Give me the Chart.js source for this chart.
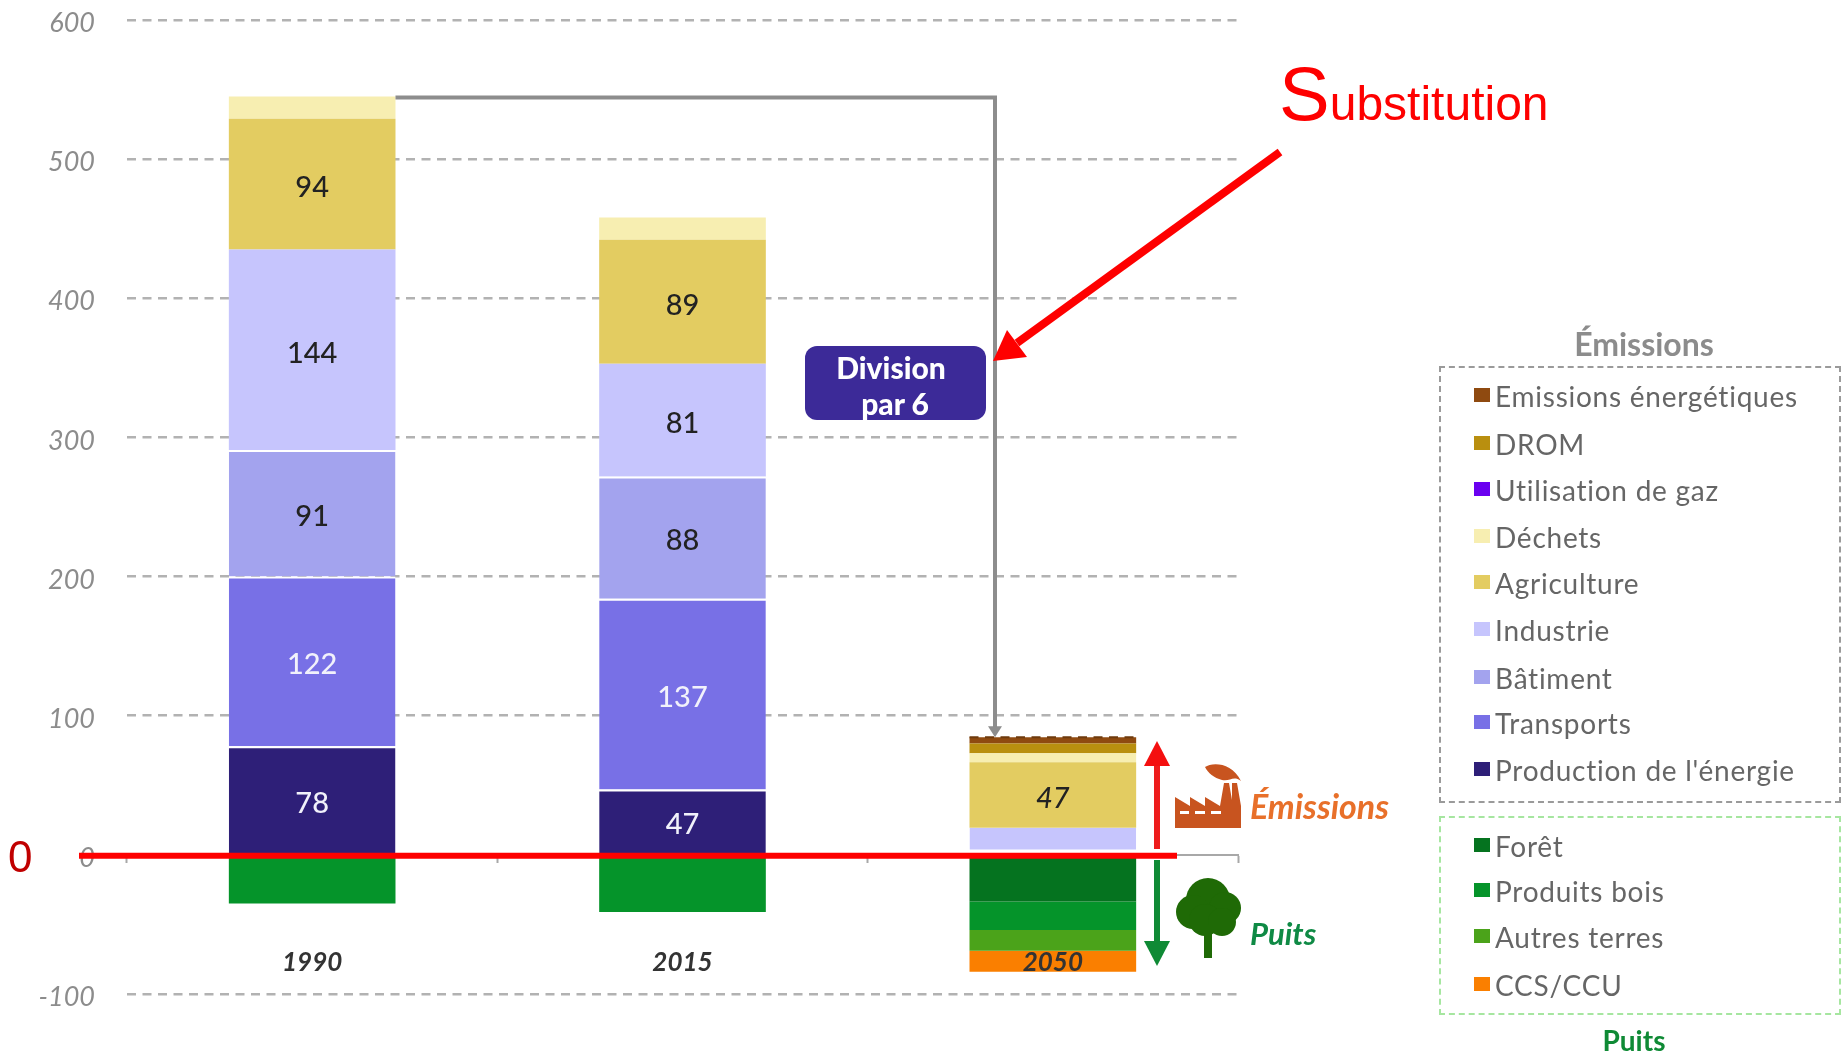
<!DOCTYPE html>
<html lang="fr"><head><meta charset="utf-8">
<script src="https://cdn.jsdelivr.net/npm/chart.js@4/dist/chart.umd.min.js"></script>
<style>
html,body{margin:0;padding:0;background:#fff;width:1841px;height:1053px;overflow:hidden}
#wrap{position:relative;width:1841px;height:1053px;font-family:Lato,sans-serif}
canvas{position:absolute;left:0;top:0}
.t{position:absolute;white-space:nowrap;line-height:1}
.box{position:absolute;box-sizing:border-box;left:1439px;width:402px}
.sw{position:absolute;left:1474px;width:16px;height:14px}
.lg{position:absolute;left:1495px;white-space:nowrap;font-size:28px;line-height:1;color:#666;letter-spacing:.75px;transform:translateY(-50%)}
</style></head><body>
<div id="wrap"><canvas id="c" width="1841" height="1053"></canvas></div>
<script>
const categories = ['1990', '2015', '2050'];
const yTicks = [-100, 0, 100, 200, 300, 400, 500, 600];
const production = [78, 47, 0];
const transports = [122, 137, 0];
const batiment = [91, 88, 0];
const industrie = [144, 81, 19.5];
const agriculture = [94, 89, 47];
const dechets = [16, 16, 6.5];
const gaz = [0, 0, 0];
const drom = [0, 0, 7];
const emissionsEnergetiques = [0, 0, 4.5];
const foret = [0, 0, -33.5];
const produitsBois = [-35, -41, -20.5];
const autresTerres = [0, 0, -15];
const ccs = [0, 0, -15];
const labelled = {
  'Production de l\'énergie': [78, 47, null],
  'Transports': [122, 137, null],
  'Bâtiment': [91, 88, null],
  'Industrie': [144, 81, null],
  'Agriculture': [94, 89, 47]
};
const emissionSeries = [
  ['Emissions énergétiques', emissionsEnergetiques, '#8f4a10'],
  ['DROM', drom, '#b98f0f'],
  ['Utilisation de gaz', gaz, '#6a00f0'],
  ['Déchets', dechets, '#f7eeb1'],
  ['Agriculture', agriculture, '#e3cc61'],
  ['Industrie', industrie, '#c6c5fd'],
  ['Bâtiment', batiment, '#a3a3ee'],
  ['Transports', transports, '#7870e6'],
  ['Production de l\'énergie', production, '#2e1f78']
];
const sinkSeries = [
  ['Forêt', foret, '#05731f'],
  ['Produits bois', produitsBois, '#05942a'],
  ['Autres terres', autresTerres, '#4ba31a'],
  ['CCS/CCU', ccs, '#fa7f00']
];
const emissionRowsY = [396, 444, 490, 537, 583, 630, 678, 723, 770];
const sinkRowsY = [846, 891, 937, 985];

const white = new Set(['Production de l\'énergie', 'Transports', 'Bâtiment']);
const datasets = [...emissionSeries.slice().reverse(), ...sinkSeries].map(([label, data, color]) => ({
  label, data, backgroundColor: color, stack: 's',
  borderColor: '#fff', borderSkipped: false,
  borderWidth: ctx => {
    if (label === 'Industrie' && ctx.dataIndex === 2) return {bottom: 4};
    return white.has(label) ? {top: 2} : 0;
  }
}));

const FONT = 'Lato, sans-serif';
const overlay = {
  id: 'overlay',
  afterDatasetsDraw(chart) {
    const c = chart.ctx;
    c.save();
    c.textAlign = 'center'; c.textBaseline = 'middle';
    chart.data.datasets.forEach((ds, i) => {
      const vals = labelled[ds.label]; if (!vals) return;
      chart.getDatasetMeta(i).data.forEach((bar, j) => {
        if (vals[j] == null) return;
        const dark = ds.label === 'Production de l\'énergie' || ds.label === 'Transports';
        c.fillStyle = dark ? '#f1f1fb' : '#222';
        c.font = (j === 2 ? 'italic ' : '') + '500 29px ' + FONT;
        c.fillText(String(vals[j]), bar.x, (bar.y + bar.base) / 2 + 3.5);
      });
    });
    c.restore();
  },
  afterDraw(chart) {
    const c = chart.ctx, y = chart.scales.y;
    const y0 = y.getPixelForValue(0);
    const metaTop = chart.getDatasetMeta(chart.data.datasets.findIndex(d => d.label === 'Déchets')).data[0];
    const topBar = chart.getDatasetMeta(chart.data.datasets.findIndex(d => d.label === 'Emissions énergétiques')).data[2];
    c.save();
    // dashed rim on the 2050 bar
    c.strokeStyle = '#6e3a0c'; c.lineWidth = 2; c.setLineDash([9, 6.5]);
    c.beginPath(); c.moveTo(topBar.x - topBar.width / 2, topBar.y); c.lineTo(topBar.x + topBar.width / 2, topBar.y); c.stroke();
    c.setLineDash([]);
    // grey bracket 1990 -> 2050
    c.strokeStyle = '#8d8d8d'; c.lineWidth = 4;
    c.beginPath(); c.moveTo(metaTop.x + metaTop.width / 2, metaTop.y + 1); c.lineTo(995, metaTop.y + 1); c.lineTo(995, topBar.y - 8); c.stroke();
    c.fillStyle = '#8d8d8d';
    c.beginPath(); c.moveTo(988, topBar.y - 11); c.lineTo(1002, topBar.y - 11); c.lineTo(995, topBar.y); c.closePath(); c.fill();
    // division box
    c.fillStyle = '#3c2a98';
    c.beginPath(); c.roundRect(805, 346, 181, 74, 12); c.fill();
    // red diagonal arrow
    c.strokeStyle = '#fe0000'; c.lineWidth = 8;
    c.beginPath(); c.moveTo(1280, 152); c.lineTo(1017, 343); c.stroke();
    c.fillStyle = '#fe0000';
    c.beginPath(); c.moveTo(993, 361); c.lineTo(1007, 330); c.lineTo(1027, 357); c.closePath(); c.fill();
    // zero line
    c.strokeStyle = '#fe0000'; c.lineWidth = 6;
    c.beginPath(); c.moveTo(79, y0 + 1); c.lineTo(1177, y0 + 1); c.stroke();
    // emissions arrow
    c.strokeStyle = '#ee1c1c'; c.lineWidth = 6;
    c.beginPath(); c.moveTo(1157, 849); c.lineTo(1157, 760); c.stroke();
    c.fillStyle = '#f40f0f';
    c.beginPath(); c.moveTo(1157, 741); c.lineTo(1170, 766); c.lineTo(1144, 766); c.closePath(); c.fill();
    // sinks arrow
    c.strokeStyle = '#0f8a35';
    c.beginPath(); c.moveTo(1157, 860); c.lineTo(1157, 945); c.stroke();
    c.fillStyle = '#0f8a35';
    c.beginPath(); c.moveTo(1157, 966); c.lineTo(1144, 941); c.lineTo(1170, 941); c.closePath(); c.fill();
    // factory
    c.fillStyle = '#c8541f';
    c.fill(new Path2D('M1175 828V797L1190 806V797L1205 806V797L1220 806L1224 783H1229L1232 800V783H1237L1241 806V828Z'));
    c.fillStyle = '#fff';
    c.fillRect(1180, 811, 9, 3); c.fillRect(1195, 811, 10, 3); c.fillRect(1211, 811, 10, 3);
    c.fillStyle = '#c8541f';
    c.fill(new Path2D('M1205 767C1212 762 1232 762 1241 781C1233 775 1230 782 1222 780C1214 778 1208 773 1205 767Z'));
    // tree
    c.fillStyle = '#1f6a06';
    [[1208, 900, 22], [1193, 912, 17], [1225, 908, 16], [1205, 920, 16], [1222, 922, 14]].forEach(([a, b, r]) => {
      c.beginPath(); c.arc(a, b, r, 0, 7); c.fill();
    });
    c.fillRect(1204, 925, 8, 33);
    c.restore();
  }
};

new Chart(document.getElementById('c'), {
  type: 'bar',
  data: {labels: categories, datasets},
  plugins: [overlay],
  options: {
    responsive: false, animation: false, devicePixelRatio: 1,
    layout: {padding: {left: 0, right: 603, top: 20, bottom: 59}},
    datasets: {bar: {barPercentage: 0.45, categoryPercentage: 1}},
    plugins: {legend: {display: false}, tooltip: {enabled: false}, title: {display: false}},
    scales: {
      x: {
        stacked: true, position: {y: 0}, offset: true,
        afterFit(s) { s.height = 0; },
        grid: {drawOnChartArea: false, drawTicks: true, tickLength: 7, tickWidth: 2, tickColor: '#a8a8a8', offset: true},
        border: {display: true, color: '#a8a8a8', width: 2},
        ticks: {color: '#333', font: {family: FONT, size: 26, style: 'italic', weight: 'bold'}, padding: 85, maxRotation: 0, z: 1}
      },
      y: {
        stacked: true, min: -100, max: 600,
        afterFit(s) { s.width = 127; s.paddingTop = 0; s.paddingBottom = 0; },
        afterBuildTicks(s) { s.ticks = yTicks.map(value => ({value})); },
        grid: {
          color: ctx => ctx.tick && ctx.tick.value === 0 ? 'rgba(0,0,0,0)' : '#b2b2b2',
          lineWidth: 2.5, drawTicks: false
        },
        border: {display: false, dash: [9, 6.5]},
        ticks: {color: '#8c8c8c', font: {family: FONT, size: 27, style: 'italic'}, padding: 32, labelOffset: 3.5}
      }
    }
  }
});

const wrap = document.getElementById('wrap');
function addText(text, css, cls) {
  const d = document.createElement('div');
  d.className = cls || 't'; d.textContent = text; d.style.cssText = css; wrap.appendChild(d); return d;
}
function addBox(top, height, color) {
  const d = document.createElement('div');
  d.className = 'box';
  d.style.cssText = `top:${top}px;height:${height}px;border:2px dashed ${color}`;
  wrap.appendChild(d);
}
addBox(366, 437, '#9a9a9a');
addBox(816, 199, '#a6e6a0');
emissionSeries.forEach(([n, , col], i) => {
  const s = document.createElement('div'); s.className = 'sw';
  s.style.cssText = `top:${emissionRowsY[i] - 8}px;background:${col}`; wrap.appendChild(s);
  addText(n, `top:${emissionRowsY[i]}px`, 'lg');
});
sinkSeries.forEach(([n, , col], i) => {
  const s = document.createElement('div'); s.className = 'sw';
  s.style.cssText = `top:${sinkRowsY[i] - 8}px;background:${col}`; wrap.appendChild(s);
  addText(n, `top:${sinkRowsY[i]}px`, 'lg');
});
addText('Émissions', 'left:1644px;top:343px;transform:translate(-50%,-50%);font:bold 32px Lato;color:#8c8c8c');
addText('Puits', 'left:1634px;top:1040px;transform:translate(-50%,-50%);font:bold 28px Lato;color:#0f8a35');
addText('Émissions', 'left:1250px;top:805px;transform:translateY(-50%);font:italic bold 34px Lato;color:#e8702a');
addText('Puits', 'left:1250px;top:933px;transform:translateY(-50%);font:italic bold 31px Lato;color:#0f8a45');
addText('Division', 'left:891px;top:367px;transform:translate(-50%,-50%);font:900 30px Lato;color:#fff');
addText('par 6', 'left:895px;top:403px;transform:translate(-50%,-50%);font:900 30px Lato;color:#fff');
addText('0', 'left:8px;top:857px;transform:translateY(-50%);font:44px "Liberation Sans";color:#c00000');
const sub = addText('', 'left:1279px;top:50px;font:48px "Liberation Sans";color:#fe0000;white-space:nowrap');
const big = document.createElement('span'); big.textContent = 'S'; big.style.fontSize = '76px';
sub.appendChild(big); sub.appendChild(document.createTextNode('ubstitution'));
</script>
</body></html>
